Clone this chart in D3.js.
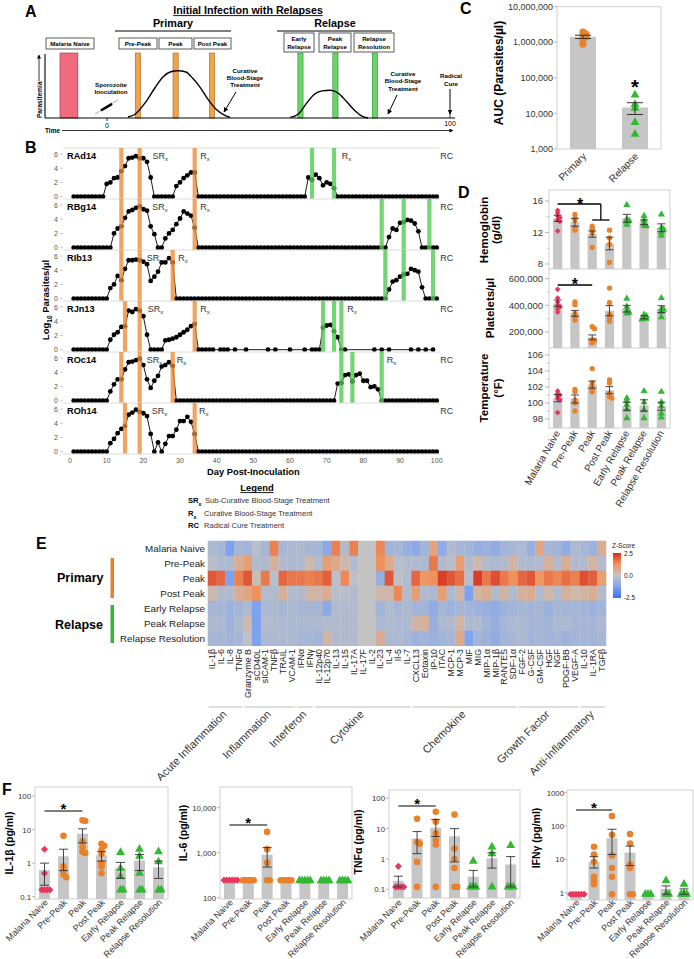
<!DOCTYPE html>
<html>
<head>
<meta charset="utf-8">
<script src="https://cdn.jsdelivr.net/npm/d3@7"></script>
<style>body{margin:0;background:#fff;}</style>
</head>
<body>
<script>
// ======================= DATA =======================
// ---- Panel A (schematic) ----
const aPrimaryT=[6.1,8.2,11.1,14,16.3,18.4,20.7,23,25,27.1,29.4,31.8,34.1,35.9];
const aPrimaryP=[1.6,6,24,48,65,73,75,73,63,49,30,14,5,1];
const aRelapseT=[53.4,55.7,58,60.3,62.7,65,67.3,69.7,72,74.3,76.1];
const aRelapseP=[1,6,22,37,43,44,40,27,13,3,0];
const aNaiveSpan=[-13.7,-8.5];
const aPrimaryStageT=[9,20,30.6];
const aRelapseStageT=[56.4,66.6,78.1];

// ---- Panel B ----
const bMonkeys=["RAd14","RBg14","RIb13","RJn13","ROc14","ROh14"];
const bDays=d3.range(1,101);
const bRAd14=[0,0,0,0,0,0,0,0,0,1.8, 2.0,2.6,2.7,3.6,4.3,5.4,5.5,5.7,5.4,5.4, 4.9,2.7,0,0,0,0,0,0,1.5,2.0,
 2.6,3.0,3.4,3.4,0,0,0,0,0,0, 0,0,0,0,0,0,0,0,0,0, 0,0,0,0,0,0,0,0,0,0, 0,0,0,0,2.7,2.35,3.1,2.6,1.6,2.0,
 1.8,1.2,0,0,0,0,0,0,0,0, 0,0,0,0,0,0,0,0,0,0, 0,0,0,0,0,0,0,0,0,0];
const bRBg14=[0,0,0,0,0,0,0,0,0,0, 0,2.0,2.7,3.0,4.2,5.1,5.3,5.6,5.8,5.4, 5.2,3.0,1.9,0,0,1.3,2.0,2.5,3.3,4.1,
 5.1,4.8,4.5,2.8,0,0,0,0,0,0, 0,0,0,0,0,0,0,0,0,0, 0,0,0,0,0,0,0,0,0,0, 0,0,0,0,0,0,0,0,0,0,
 0,0,0,0,0,0,0,0,0,0, 0,0,0,0,0,0,1.5,2.7,2.5,3.5, 3.6,3.9,3.8,3.4,2.3,0,0,0,0,0];
const bRIb13=[0,0,0,0,0,0,0,0,0,0, 1.5,2.0,3.2,2.6,4.2,5.4,5.4,5.5,5.4,5.2, 4.85,2.5,3.1,3.8,5.1,5.1,5.7,5.1,0,0,
 0,0,0,0,0,0,0,0,0,0, 0,0,0,0,0,0,0,0,0,0, 0,0,0,0,0,0,0,0,0,0, 0,0,0,0,0,0,0,0,0,0,
 0,0,0,0,0,0,0,0,0,0, 0,0,0,0,0,0,1.3,2.4,2.6,3.1, 3.4,3.5,4.2,4.0,3.8,1.6,0,0,0,0];
const bRJn13Days=[1,2,3,4,5,6,7,8,9,10,11,12,13,14,15,16,17,18,19,20,21,22,23,24,25,26,27,28,29,30,31,32,33,34,35,
 36,37,38,39,41,42,43,45,48,54,56,60,64,66,67,68,69,70,71,72,73,74,75,83,85,87,93,95,97,99];
const bRJn13=[0,0,0,0,0,0,0,0,0,0, 1.4,2.1,2.45,3.2,3.3,5.5,5.3,5.7,5.5,4.7, 2.1,0,0,0,0,1.3,1.4,1.55,1.75,2.1,
 2.45,2.8,3.3,3.6,0, 0,0,0,0,0,0,0,0,0,0,0,0,0,0,0,0, 3.1,3.4,3.5,2.6,1.75,0,0, 0,0,0,0,0,0,0];
const bROc14=[0,0,0,0,0,0,0,0,0,0, 1.3,2.3,3.0,3.0,4.4,5.4,5.5,5.7,5.9,5.0, 3.0,1.8,2.8,3.5,4.8,5.0,5.4,4.9,0,0,
 0,0,0,0,0,0,0,0,0,0, 0,0,0,0,0,0,0,0,0,0, 0,0,0,0,0,0,0,0,0,0, 0,0,0,0,0,0,0,0,0,0,
 0,0,2.4,2.5,3.6,3.7,2.7,3.6,3.8,2.8, 2.8,1.9,2.0,1.6,0,0,0,0,0,0, 0,0,0,0,0,0,0,0,0,0];
const bROh14=[0,0,0,0,0,0,0,0,0,0, 1.2,1.8,2.6,3.2,3.6,5.2,5.5,5.9,5.6,5.4, 5.0,2.5,0,1.3,0,1.1,2.2,2.2,3.1,4.3,
 4.3,4.9,4.2,2.5,0,0,0,0,0,0, 0,0,0,0,0,0,0,0,0,0, 0,0,0,0,0,0,0,0,0,0, 0,0,0,0,0,0,0,0,0,0,
 0,0,0,0,0,0,0,0,0,0, 0,0,0,0,0,0,0,0,0,0, 0,0,0,0,0,0,0,0,0,0];
const bSeriesDays=[bDays,bDays,bDays,bRJn13Days,bDays,bDays];
const bSeriesVals=[bRAd14,bRBg14,bRIb13,bRJn13,bROc14,bROh14];
const bOrangeDays=[[14,19,34],[14,19,34],[14,19,28],[15,19,34],[14,19,28],[15,19,34]];
const bGreenDays=[[66,72],[85,91,98],[86,91,99],[69,72,74],[74,77,85],[]];
const bSRxDay=[22.5,22.4,20.9,21.2,20.9,22.3];
const bRxDay=[35.5,35.5,29.5,35.5,29.1,35.2];
const bRx2Day=[74.1,null,null,75.6,86.4,null];
const bRCDay=101;
const bDayTicks=[0,10,20,30,40,50,60,70,80,90,100];
const bLogTicks=[0,2,4,6];

// ---- Panel C ----
const cGroups=["Primary","Relapse"];
const cMeans=[1.42e6,1.47e4];
const cLo=[1.28e6,9.3e3];
const cHi=[1.58e6,2.0e4];
const cPoints=[[1.95e6,1.7e6,1.55e6,1.4e6,1.15e6,0.88e6],[3.3e4,1.8e4,1.4e4,5.6e3,2.6e3]];
const cTicks=[1e3,1e4,1e5,1e6,1e7];

// ---- Stage names (D, F) ----
const stages=["Malaria Naive","Pre-Peak","Peak","Post Peak","Early Relapse","Peak Relapse","Relapse Resolution"];

// ---- Panel D ----
const dHgbMean=[13.8,13.3,11.8,10.6,13.8,13.3,12.6];
const dHgbErr=[0.4,0.5,0.4,0.8,0.5,0.3,0.5];
const dHgbPts=[[14.8,14.5,14.1,13.9,13.6,13.4,12.2],[14.3,13.8,13.5,12.6,12.3],[12.8,12.5,12.2,11.9,10.1],[12.3,11.3,10.5,8.2],[15.5,13.7,13.5,13.4,13.0],[14.1,13.6,13.2,12.9,12.8],[14.3,12.6,12.4,12.0,11.6]];
const dHgbTicks=[8,12,16];
const dPltMean=[415000,340000,160000,360000,375000,310000,372000];
const dPltErr=[25000,22000,18000,38000,25000,12000,25000];
const dPltPts=[[520000,455000,425000,400000,390000,372000,350000],[425000,405000,340000,315000,290000],[240000,225000,140000,135000,120000],[530000,420000,330000,305000,280000],[450000,390000,360000,345000,340000],[330000,320000,305000,300000,295000],[455000,373000,370000,350000,312000]];
const dPltTicks=[200000,400000,600000];
const dTmpMean=[100.6,100.5,102.3,101.6,99.6,99.7,99.6];
const dTmpErr=[0.45,0.5,0.45,0.45,0.5,0.7,0.5];
const dTmpPts=[[101.5,101.2,101.0,100.9,100.6,100.4,98.8],[101.7,101.4,100.4,100.0,99.0],[104.3,102.5,102.1,101.7,101.4],[102.9,102.5,101.2,100.8,100.6],[100.6,100.3,99.8,99.2,98.1],[101.5,100.1,99.1,98.1],[101.4,100.1,99.6,98.7,98.2]];
const dTmpTicks=[98,100,102,104,106];

// ---- Panel E ----
const eRows=["Malaria Naive","Pre-Peak","Peak","Post Peak","Early Relapse","Peak Relapse","Relapse Resolution"];
const eAnalytes=["IL-1β","IL-6","IL-8","TNFα","Granzyme B","sCD40L","sICAM-1","TNFβ","TRAIL","VCAM-1","IFNα","IFNγ",
 "IL-12p40","IL-12p70","IL-13","IL-15","IL-17A","IL-17F","IL-2","IL-23","IL-4","Il-5","IL-7",
 "CXCL13","Eotaxin","IP-10","ITAC","MCP-1","MCP-3","MIF","MIG","MIP-1α","MIP-1β","RANTES","SDF-1α",
 "FGF-2","G-CSF","GM-CSF","HGF","NGF","PDGF-BB","VEGF-A","IL-10","IL-1RA","TGFβ"];
const eGroupNames=["Acute Inflammation","Inflammation","Interferon","Cytokine","Chemokine","Growth Factor","Anti-Inflammatory"];
const eGroupSizes=[4,6,2,11,12,7,3];
const eNaive=[-0.4,-0.5,-1.3,-0.5,-0.6,-0.2,-0.5,1.5,-0.5,-0.4,-0.4,-0.5,-0.5,-1.0,1.5,-0.3,1.5,0,0,1.4,-0.6,-0.5,-0.8,-1.0,-0.6,0.8,-0.9,-0.3,-0.5,-0.6,-0.8,-0.7,-0.9,-0.6,-0.5,-0.4,-0.8,0.8,-0.5,-0.6,-0.9,-0.4,-0.5,-0.7,0.6];
const ePrePeak=[-0.2,-0.4,-0.4,0.6,1.0,-0.3,-0.4,0.5,-0.3,-0.4,-0.3,0.3,-0.3,1.0,0.7,0.3,-0.3,0,0,1.3,0.7,-0.2,-0.3,-0.3,-0.4,1.6,-0.3,-0.2,1.0,-0.3,0.3,-0.3,-0.4,-0.3,0.4,-0.3,-0.4,-0.3,0.5,-0.3,0.6,-0.3,-0.3,0.4,-0.3];
const ePeak=[2.0,1.8,-1.3,1.5,2.0,0.2,1.6,-0.2,1.8,1.6,1.6,1.5,1.6,1.9,-0.2,1.4,-0.1,0,0,-0.8,2.0,-0.1,-0.3,1.8,1.2,1.3,2.3,2.0,1.7,-0.2,2.3,1.6,2.1,1.6,1.3,1.8,2.0,1.2,1.6,1.4,1.7,1.5,2.1,1.9,1.0];
const ePostPeak=[0.3,-0.3,-0.3,0.6,0.8,1.3,-0.3,-0.3,0.5,-0.3,-0.3,0.4,0.4,0.6,-0.2,-0.2,-0.3,0,0,0.3,0.3,1.4,-0.3,1.0,-0.3,-0.4,1.0,-0.4,0.4,-1.3,0.4,0.6,-0.3,0.4,-0.3,0.5,0.6,-0.3,0.3,-0.3,0.5,0.3,0.4,0.6,-0.3];
const eEarlyRel=[-0.5,-0.5,-0.7,-0.6,-0.4,-1.3,-0.4,-0.4,-0.5,-0.4,-0.5,-0.5,-0.5,-1.0,-0.3,-0.3,-0.3,0,0,-0.6,-0.3,-0.5,-0.4,-0.6,-0.6,-0.9,-0.5,-0.7,-0.5,-0.6,-0.7,-0.8,-0.9,-0.7,-0.6,-0.5,-0.6,-0.5,-0.7,-0.5,-0.6,-0.5,-0.6,-0.7,-0.6];
const ePeakRel=[-0.4,-0.4,-0.7,-0.4,0.3,-1.3,-0.3,-0.3,-0.4,-0.4,-0.4,-0.4,-0.4,-0.3,-0.3,-0.3,-0.3,0,0,-0.4,-0.3,-0.4,-0.4,0.4,0.5,-0.8,-0.4,-0.3,0.4,-0.4,-0.3,-0.6,-0.8,-0.5,-0.4,-0.4,-0.5,-0.5,-0.6,-0.4,-0.4,-0.5,-0.5,-0.5,-0.4];
const eRelRes=[-0.5,-0.5,-0.6,-0.5,-0.1,-1.3,-0.4,-0.4,-0.4,-0.4,-0.5,-0.5,-0.6,0.4,-0.3,-0.3,-0.3,0,0,0.6,-0.4,-0.4,-0.5,-0.7,-0.6,-0.7,-0.6,-0.5,0.7,-1.2,-0.6,-0.7,-0.9,-0.6,-0.5,-0.4,-0.6,-0.5,-0.6,-0.5,-0.7,-0.6,-0.5,-0.6,-0.5];
const eMatrix=[eNaive,ePrePeak,ePeak,ePostPeak,eEarlyRel,ePeakRel,eRelRes];

// ---- Panel F ----
const fIL1bMean=[0.62,1.6,7.5,1.7,0.7,1.2,0.75];
const fIL1bLo=[0.22,0.6,4.0,1.15,0.35,0.6,0.35];
const fIL1bHi=[1.0,2.6,10.5,2.2,1.05,1.8,1.15];
const fIL1bPts=[[2.6,0.5,0.16,0.16,0.16,0.16],[6.5,0.8,0.6,0.45,0.38],[19,18,4.5,3.0,2.2,2.0],[3.8,3.3,2.5,1.9,1.0,0.8,0.5],[2.1,0.7,0.4,0.16,0.16],[2.6,1.6,0.5,0.16,0.16],[2.2,1.1,0.16,0.16]];
const fIL6Mean=[245,245,900,245,240,240,240];
const fIL6Lo=[245,245,480,245,240,240,240];
const fIL6Hi=[245,245,1300,245,240,240,240];
const fIL6Pts=[[245,245,245,245,245,245],[245,245,245,245,245],[2900,1200,600,245,245],[245,245,245,245,245],[240,240,240,240,240],[240,240,240,240],[240,240,240,240]];
const fTNFMean=[0.19,4.7,10.8,5.6,0.26,1.05,0.66];
const fTNFLo=[0.12,1.5,5.5,0.8,0.12,0.5,0.12];
const fTNFHi=[0.27,8,20,10,0.42,1.6,1.2];
const fTNFPts=[[0.57,0.12,0.12,0.12,0.12],[21,3.6,3.2,0.8,0.12],[36,17,7,4.2,3.0,0.12],[29,2.2,1.0,0.5,0.12,0.12],[0.85,0.12,0.12,0.12],[2.5,1.5,0.12],[2.8,0.12,0.12,0.12]];
const fIFNMean=[0.9,8.5,43,16,0.9,1.3,1.1];
const fIFNLo=[0.9,5.5,14,6.5,0.9,0.9,0.9];
const fIFNHi=[0.9,12,80,25,0.9,1.6,1.3];
const fIFNPts=[[0.9,0.9,0.9,0.9,0.9,0.9],[24,14,8.5,3.0,2.2,1.8],[200,55,13,5.5,3.0,0.9],[58,30,7,5.5,0.9,0.9],[0.9,0.9,0.9],[2.3,0.9,0.9],[1.8,0.9,0.9,0.9]];

// ======================= DRAWING =======================
const FONT="'Liberation Sans', Arial, Helvetica, sans-serif";
const svg=d3.select("body").append("svg").attr("width",694).attr("height",959).attr("font-family",FONT);
svg.append("rect").attr("width",694).attr("height",959).attr("fill","#fff");
const defs=svg.append("defs");
defs.append("marker").attr("id","ah").attr("viewBox","0 0 10 10").attr("refX",9).attr("refY",5)
 .attr("markerWidth",5).attr("markerHeight",5).attr("orient","auto").append("path").attr("d","M0,0L10,5L0,10z").attr("fill","#000");

const COL_NAIVE="#e8365c", COL_PRI="#e8812a", COL_REL="#33b833", BAR="#c6c6c6", BOX="#cfcfcf";

function T(g,x,y,s,o){o=o||{};const t=g.append("text").attr("x",x).attr("y",y).text(s)
 .attr("font-size",o.size||10).attr("fill",o.fill||"#000").attr("text-anchor",o.anchor||"start");
 if(o.bold)t.attr("font-weight","bold"); if(o.rot!=null)t.attr("transform",`rotate(${o.rot},${x},${y})`); return t;}
function L(g,x1,y1,x2,y2,o){o=o||{};const l=g.append("line").attr("x1",x1).attr("y1",y1).attr("x2",x2).attr("y2",y2)
 .attr("stroke",o.stroke||"#000").attr("stroke-width",o.w||1); if(o.arrow)l.attr("marker-end","url(#ah)"); return l;}
function underline(g,t,x,y,anchor,w){const len=t.node().getComputedTextLength();const x0=anchor==="middle"?x-len/2:x;L(g,x0,y+1.6,x0+len,y+1.6,{w:w||0.9});}
function subText(g,x,y,main,sub,o){o=o||{};const t=g.append("text").attr("x",x).attr("y",y).attr("font-size",o.size||9).attr("fill",o.fill||"#333");
 if(o.bold)t.attr("font-weight","bold"); t.append("tspan").text(main); t.append("tspan").attr("dy",2.5).attr("font-size",(o.size||9)*0.68).text(sub); return t;}
function stageKind(i){return i===0?"diamond":(i<=3?"circle":"triangle");}
function stageColor(i){return i===0?COL_NAIVE:(i<=3?COL_PRI:COL_REL);}
function sym(g,kind,x,y,size,color){
 let p; if(kind==="diamond"){p=g.append("path").attr("d",d3.symbol().type(d3.symbolSquare).size(size*0.75)()).attr("transform",`translate(${x},${y}) rotate(45)`);}
 else {p=g.append("path").attr("d",d3.symbol().type(kind==="circle"?d3.symbolCircle:d3.symbolTriangle).size(size)()).attr("transform",`translate(${x},${y})`);}
 p.attr("fill",color);}
function swarm(vals,ys,cx,r){const pts=vals.map(v=>({v,y:ys(v)})).sort((a,b)=>a.y-b.y);const placed=[];const offs=[0,1,-1,2,-2,3,-3,4,-4];
 pts.forEach(p=>{for(const o of offs){const x=cx+o*r*0.75;if(placed.every(q=>Math.hypot(q.x-x,q.y-p.y)>=r*0.7)){p.x=x;break;}} if(p.x===undefined)p.x=cx; placed.push(p);});return placed;}

// Panel letters
[["A",25,17],["B",25,153],["C",460,14],["D",458,198],["E",36,549],["F",2,795]].forEach(d=>T(svg,d[1],d[2],d[0],{size:16,bold:true}));

// ---------------- Panel A ----------------
(function(){
 const g=svg.append("g");
 const xA=d3.scaleLinear().domain([0,100]).range([107,450]);
 const yA=d3.scaleLinear().domain([0,100]).range([118,55]);
 const tt=T(g,248,14,"Initial Infection with Relapses",{size:10.7,bold:true,anchor:"middle"}); underline(g,tt,248,14,"middle");
 T(g,173,27,"Primary",{size:10.8,bold:true,anchor:"middle"}); L(g,115,31,231,31,{w:1});
 T(g,335,27,"Relapse",{size:10.8,bold:true,anchor:"middle"}); L(g,277,31,392,31,{w:1});
 const boxes=[[46,94,38,49,["Malaria Naive"]],[119,157,38,49,["Pre-Peak"]],[159,192,38,49,["Peak"]],[194,231,38,49,["Post Peak"]],
  [284,314,33,52,["Early","Relapse"]],[319,351,33,52,["Peak","Relapse"]],[354,394,33,52,["Relapse","Resolution"]]];
 boxes.forEach(b=>{g.append("rect").attr("x",b[0]).attr("y",b[2]).attr("width",b[1]-b[0]).attr("height",b[3]-b[2]).attr("fill","#fff").attr("stroke","#333").attr("stroke-width",0.8);
  const cx=(b[0]+b[1])/2; if(b[4].length===1)T(g,cx,b[2]+8,b[4][0],{size:6.2,bold:true,anchor:"middle"});
  else {T(g,cx,b[2]+8,b[4][0],{size:6.2,bold:true,anchor:"middle"});T(g,cx,b[2]+15.5,b[4][1],{size:6.2,bold:true,anchor:"middle"});}});
 g.append("rect").attr("x",xA(aNaiveSpan[0])).attr("y",53).attr("width",xA(aNaiveSpan[1])-xA(aNaiveSpan[0])).attr("height",65).attr("fill","#f26b7c").attr("stroke","#8a3340").attr("stroke-width",0.6);
 aPrimaryStageT.forEach(t=>g.append("rect").attr("x",xA(t)-2.6).attr("y",53).attr("width",5.2).attr("height",65).attr("fill","#f0a447").attr("stroke","#a5621c").attr("stroke-width",0.6));
 aRelapseStageT.forEach(t=>g.append("rect").attr("x",xA(t)-2.6).attr("y",53).attr("width",5.2).attr("height",65).attr("fill","#6ad46a").attr("stroke","#2a8a2a").attr("stroke-width",0.6));
 const ln=d3.line().x(d=>xA(d[0])).y(d=>yA(d[1])).curve(d3.curveMonotoneX);
 g.append("path").attr("d",ln(aPrimaryT.map((t,i)=>[t,aPrimaryP[i]]))).attr("fill","none").attr("stroke","#000").attr("stroke-width",1.4);
 g.append("path").attr("d",ln(aRelapseT.map((t,i)=>[t,aRelapseP[i]]))).attr("fill","none").attr("stroke","#000").attr("stroke-width",1.4);
 L(g,45,118,45,54,{w:1.1}); L(g,45,118,455,118,{w:1.1});
 L(g,xA(0),118,xA(0),121,{w:0.8}); L(g,xA(100),113,xA(100),118,{w:0.8});
 T(g,xA(0),128,"0",{size:7,anchor:"middle"}); T(g,xA(100),126,"100",{size:7,anchor:"middle"});
 T(g,45,133,"Time",{size:6.5,bold:true}); L(g,62,130.5,453,130.5,{w:0.8,arrow:true});
 T(g,41.5,118,"Parasitemia",{size:6.5,bold:true,rot:-90}); L(g,39,81,39,55,{w:0.8,arrow:true});
 T(g,111,87,"Sporozoite",{size:6.2,bold:true,anchor:"middle"}); T(g,111,94,"Inoculation",{size:6.2,bold:true,anchor:"middle"});
 L(g,95,114,118,100,{w:0.6,stroke:"#777"}); L(g,101,110.5,112,103.8,{w:2.6});
 ["Curative","Blood-Stage","Treatment"].forEach((s,i)=>T(g,245,73+i*7,s,{size:6.2,bold:true,anchor:"middle"}));
 L(g,236,92,224,112,{w:1,arrow:true});
 ["Curative","Blood-Stage","Treatment"].forEach((s,i)=>T(g,403,76+i*7.3,s,{size:6.2,bold:true,anchor:"middle"}));
 L(g,397,95,388,114,{w:1,arrow:true});
 T(g,451,78,"Radical",{size:6.2,bold:true,anchor:"middle"}); T(g,451,86,"Cure",{size:6.2,bold:true,anchor:"middle"});
 L(g,450,89,450,114,{w:1,arrow:true});
})();

// ---------------- Panel B ----------------
(function(){
 const g=svg.append("g");
 const xB=d3.scaleLinear().domain([0,100]).range([70,436.7]);
 bMonkeys.forEach((name,i)=>{
  const top=148+51*i;
  const yB=d3.scaleLinear().domain([0,6]).range([top+48.7,top+6]);
  L(g,63,top,440,top,{stroke:"#dcdcdc",w:1});
  bLogTicks.forEach(t=>{T(g,58,yB(t)+2.5,String(t),{size:7,fill:"#555",anchor:"end"});L(g,60,yB(t),63,yB(t),{stroke:"#aaa",w:0.6});});
  const days=bSeriesDays[i], vals=bSeriesVals[i];
  const pts=days.map((d,k)=>[d,vals[k]]);
  g.append("path").attr("d",d3.line().x(d=>xB(d[0])).y(d=>yB(d[1]))(pts)).attr("fill","none").attr("stroke","#000").attr("stroke-width",0.9);
  pts.forEach(p=>g.append("circle").attr("cx",xB(p[0])).attr("cy",yB(p[1])).attr("r",2.4).attr("fill","#000"));
  bOrangeDays[i].forEach(d=>g.append("rect").attr("x",xB(d)-2.1).attr("y",top).attr("width",4.2).attr("height",51).attr("fill","#ec8a33").attr("opacity",0.78));
  bGreenDays[i].forEach(d=>g.append("rect").attr("x",xB(d)-2.1).attr("y",top).attr("width",4.2).attr("height",51).attr("fill","#52c952").attr("opacity",0.8));
  T(g,67,top+11,name,{size:9.2,bold:true});
  subText(g,xB(bSRxDay[i]),top+10.5,"SR","x",{size:9});
  subText(g,xB(bRxDay[i]),top+10.5,"R","x",{size:9});
  if(bRx2Day[i]!=null)subText(g,xB(bRx2Day[i]),top+10.5,"R","x",{size:9});
  T(g,xB(bRCDay),top+10.5,"RC",{size:9,fill:"#333"});
 });
 L(g,63,454,440,454,{stroke:"#dcdcdc",w:1});
 bDayTicks.forEach(d=>T(g,xB(d),463,String(d),{size:7,fill:"#555",anchor:"middle"}));
 T(g,xB(50),475,"Day Post-Inoculation",{size:9.3,bold:true,anchor:"middle"});
 const yl=g.append("text").attr("transform","translate(49,300) rotate(-90)").attr("text-anchor","middle").attr("font-size",9.5).attr("font-weight","bold");
 yl.append("tspan").text("Log"); yl.append("tspan").attr("dy",2.5).attr("font-size",6.5).text("10"); yl.append("tspan").attr("dy",-2.5).text(" Parasites/µl");
 const lt=T(g,257,491,"Legend",{size:9.4,bold:true,anchor:"middle"}); underline(g,lt,257,491,"middle");
 subText(g,188,503,"SR","x",{size:7.6,bold:true,fill:"#000"}); T(g,205,503,"Sub-Curative Blood-Stage Treatment",{size:7.6,fill:"#333"});
 subText(g,188,516,"R","x",{size:7.6,bold:true,fill:"#000"}); T(g,204,516,"Curative Blood-Stage Treatment",{size:7.6,fill:"#333"});
 T(g,188,528,"RC",{size:7.6,bold:true}); T(g,204,528,"Radical Cure Treatment",{size:7.6,fill:"#333"});
})();

// ---------------- Panel C ----------------
(function(){
 const g=svg.append("g");
 const x0=557,x1=661,y0=6.7,y1=149;
 const xs=d3.scalePoint().domain(cGroups).range([x0,x1]).padding(0.5);
 const ys=d3.scaleLog().domain([1e3,1e7]).range([y1,y0]);
 g.append("rect").attr("x",x0).attr("y",y0).attr("width",x1-x0).attr("height",y1-y0).attr("fill","none").attr("stroke",BOX);
 cTicks.forEach(t=>{T(g,x0-4,ys(t)+3.2,d3.format(",")(t),{size:9,fill:"#333",anchor:"end"});L(g,x0-3,ys(t),x0,ys(t),{stroke:"#999",w:0.7});});
 cGroups.forEach((gr,i)=>{const cx=xs(gr);
  g.append("rect").attr("x",cx-13).attr("y",ys(cMeans[i])).attr("width",26).attr("height",y1-ys(cMeans[i])).attr("fill",BAR);
  swarm(cPoints[i],ys,cx,4).forEach(p=>sym(g,i===0?"circle":"triangle",p.x,p.y,i===0?40:34,i===0?COL_PRI:COL_REL));
  L(g,cx,ys(cLo[i]),cx,ys(cHi[i]),{stroke:"#333"});L(g,cx-8,ys(cLo[i]),cx+8,ys(cLo[i]),{stroke:"#333"});L(g,cx-8,ys(cHi[i]),cx+8,ys(cHi[i]),{stroke:"#333"});
  T(g,cx+4,157,gr,{size:10,fill:"#333",anchor:"end",rot:-45});
 });
 T(g,xs("Relapse"),94,"*",{size:20,bold:true,anchor:"middle"});
 T(g,503,73,"AUC (Parasites/µl)",{size:12,bold:true,anchor:"middle",rot:-90});
})();

// ---------------- Panel D ----------------
(function(){
 const g=svg.append("g");
 const x0=549,x1=670;
 const xs=d3.scalePoint().domain(stages).range([x0,x1]).padding(0.5);
 g.append("rect").attr("x",x0).attr("y",190).attr("width",x1-x0).attr("height",238).attr("fill","none").attr("stroke",BOX);
 L(g,x0,269,x1,269,{stroke:BOX}); L(g,x0,348,x1,348,{stroke:BOX});
 const panels=[
  {ys:d3.scaleLinear().domain([8,16]).range([264,201]),bottom:269,mean:dHgbMean,err:dHgbErr,pts:dHgbPts,ticks:dHgbTicks,minor:[10,14],fmt:d=>d},
  {ys:d3.scaleLinear().domain([200000,600000]).range([332,278.7]),bottom:348,mean:dPltMean,err:dPltErr,pts:dPltPts,ticks:dPltTicks,minor:[300000,500000],fmt:d3.format(",")},
  {ys:d3.scaleLinear().domain([98,106]).range([419,355]),bottom:428,mean:dTmpMean,err:dTmpErr,pts:dTmpPts,ticks:dTmpTicks,minor:[99,101,103,105],fmt:d=>d}];
 panels.forEach(P=>{
  P.ticks.forEach(t=>{T(g,x0-6,P.ys(t)+3.4,P.fmt(t),{size:9.5,fill:"#333",anchor:"end"});L(g,x0-4,P.ys(t),x0,P.ys(t),{stroke:"#999",w:0.7});});
  P.minor.forEach(t=>L(g,x0-2.5,P.ys(t),x0,P.ys(t),{stroke:"#aaa",w:0.6}));
  stages.forEach((s,i)=>{const cx=xs(s);
   g.append("rect").attr("x",cx-4.6).attr("y",P.ys(P.mean[i])).attr("width",9.2).attr("height",P.bottom-P.ys(P.mean[i])).attr("fill",BAR);
   swarm(P.pts[i],P.ys,cx,3).forEach(p=>sym(g,stageKind(i),p.x,p.y,22,stageColor(i)));
   const lo=P.ys(P.mean[i]-P.err[i]),hi=P.ys(P.mean[i]+P.err[i]);
   L(g,cx,lo,cx,hi,{stroke:"#333",w:0.9});L(g,cx-4,lo,cx+4,lo,{stroke:"#333",w:0.9});L(g,cx-4,hi,cx+4,hi,{stroke:"#333",w:0.9});
  });
 });
 const xm=(xs("Peak")+xs("Post Peak"))/2;
 L(g,xs("Malaria Naive"),204,xm,204,{w:1.3}); L(g,xm,204,xm,220,{w:1.3}); L(g,xs("Peak"),220,xs("Post Peak"),220,{w:1.3});
 T(g,580,210,"*",{size:16,bold:true,anchor:"middle"});
 L(g,xs("Malaria Naive"),285,xs("Peak"),285,{w:1.3});
 T(g,(xs("Malaria Naive")+xs("Peak"))/2,290,"*",{size:16,bold:true,anchor:"middle"});
 T(g,488,230,"Hemoglobin",{size:11.5,bold:true,anchor:"middle",rot:-90});
 T(g,500,230,"(g/dl)",{size:11.5,bold:true,anchor:"middle",rot:-90});
 T(g,494,308,"Platelets/µl",{size:11.5,bold:true,anchor:"middle",rot:-90});
 T(g,488,388,"Temperature",{size:11.5,bold:true,anchor:"middle",rot:-90});
 T(g,502,388,"(°F)",{size:11.5,bold:true,anchor:"middle",rot:-90});
 stages.forEach(s=>T(g,xs(s)+3,433,s,{size:10,fill:"#333",anchor:"end",rot:-60}));
})();

// ---------------- Panel E ----------------
(function(){
 const g=svg.append("g");
 const xs=d3.scaleBand().domain(eAnalytes).range([207.7,207.7+8.85*eAnalytes.length]);
 const ys=d3.scaleBand().domain(eRows).range([540.7,645.7]);
 const col=d3.scaleLinear().domain([-2.5,-1.25,0,1.25,2.5]).range(["#3a6ff0","#7ea3ef","#c3c3c3","#f0955e","#d62c1e"]).clamp(true);
 eRows.forEach((r,ri)=>{eAnalytes.forEach((a,ci)=>{
  g.append("rect").attr("x",xs(a)).attr("y",ys(r)).attr("width",xs.bandwidth()+0.3).attr("height",ys.bandwidth()+0.3).attr("fill",col(eMatrix[ri][ci]));});
  T(g,205,ys(r)+ys.bandwidth()/2+3.5,r,{size:9.8,fill:"#222",anchor:"end"});});
 eAnalytes.forEach(a=>T(g,xs(a)+xs.bandwidth()/2+3.2,649,a,{size:8.8,fill:"#222",anchor:"end",rot:-90}));
 let start=0;
 eGroupNames.forEach((n,i)=>{const a0=eAnalytes[start],a1=eAnalytes[start+eGroupSizes[i]-1];
  const gx0=xs(a0)+1,gx1=xs(a1)+xs.bandwidth()-1; L(g,gx0,707,gx1,707,{stroke:"#bbb",w:1});
  T(g,(gx0+gx1)/2+2,715,n,{size:11,fill:"#333",anchor:"end",rot:-45}); start+=eGroupSizes[i];});
 T(g,57,582,"Primary",{size:12.5,bold:true}); g.append("rect").attr("x",110.5).attr("y",558).attr("width",3.5).attr("height",40).attr("fill","#e8812a");
 T(g,55,629,"Relapse",{size:12.5,bold:true}); g.append("rect").attr("x",110.5).attr("y",605).attr("width",3.5).attr("height",38).attr("fill","#33b833");
 const cbx=xs.range()[1]+7;
 const grad=defs.append("linearGradient").attr("id","zg").attr("x1",0).attr("x2",0).attr("y1",0).attr("y2",1);
 [2.5,1.25,0,-1.25,-2.5].forEach((v,i)=>grad.append("stop").attr("offset",(i*25)+"%").attr("stop-color",col(v)));
 g.append("rect").attr("x",cbx).attr("y",553).attr("width",8).attr("height",45).attr("fill","url(#zg)");
 T(g,cbx-1,548,"Z-Score",{size:6.5,fill:"#222"});
 T(g,cbx+11,556,"2.5",{size:6.5,fill:"#222"}); T(g,cbx+11,578,"0.0",{size:6.5,fill:"#222"}); T(g,cbx+11,600,"-2.5",{size:6.5,fill:"#222"});
})();

// ---------------- Panel F ----------------
(function(){
 const g=svg.append("g");
 const charts=[
  {x0:35,x1:168,y0:787,y1:899,dom:[0.1,100],rng:[896.7,796],ticks:[0.1,1,10,100],fmt:d=>String(d),tx:31,label:"IL-1β (pg/ml)",lx:13,ly:843,sig:811,star:814,mean:fIL1bMean,lo:fIL1bLo,hi:fIL1bHi,pts:fIL1bPts},
  {x0:220,x1:352,y0:787,y1:899,dom:[100,10000],rng:[897.7,807.7],ticks:[100,1000,10000],fmt:d3.format(","),tx:216,label:"IL-6 (pg/ml)",lx:187,ly:833,sig:825,star:828,mean:fIL6Mean,lo:fIL6Lo,hi:fIL6Hi,pts:fIL6Pts},
  {x0:389,x1:520,y0:790,y1:898,dom:[0.1,100],rng:[889.3,798.3],ticks:[0.1,1,10,100],fmt:d=>String(d),tx:385,label:"TNFα (pg/ml)",lx:362,ly:842,sig:806,star:809,mean:fTNFMean,lo:fTNFLo,hi:fTNFHi,pts:fTNFPts},
  {x0:567,x1:693,y0:790,y1:900,dom:[1,1000],rng:[892.7,792.7],ticks:[1,10,100,1000],fmt:d=>String(d),tx:564,label:"IFNγ (pg/ml)",lx:540,ly:838,sig:810,star:813,mean:fIFNMean,lo:fIFNLo,hi:fIFNHi,pts:fIFNPts}];
 charts.forEach(C=>{
  const xs=d3.scalePoint().domain(stages).range([C.x0,C.x1]).padding(0.5);
  const ys=d3.scaleLog().domain(C.dom).range(C.rng);
  g.append("rect").attr("x",C.x0).attr("y",C.y0).attr("width",C.x1-C.x0).attr("height",C.y1-C.y0).attr("fill","none").attr("stroke",BOX);
  C.ticks.forEach(t=>{T(g,C.tx,ys(t)+3,C.fmt(t),{size:7.8,fill:"#333",anchor:"end"});L(g,C.x0-3,ys(t),C.x0,ys(t),{stroke:"#999",w:0.7});});
  stages.forEach((s,i)=>{const cx=xs(s);
   g.append("rect").attr("x",cx-5.5).attr("y",ys(C.mean[i])).attr("width",11).attr("height",C.y1-ys(C.mean[i])).attr("fill",BAR);
   swarm(C.pts[i],ys,cx,3.6).forEach(p=>sym(g,stageKind(i),p.x,p.y,34,stageColor(i)));
   const lo=ys(C.lo[i]),hi=ys(C.hi[i]);
   if(Math.abs(hi-lo)>0.5){L(g,cx,lo,cx,hi,{stroke:"#333",w:0.9});L(g,cx-4.5,lo,cx+4.5,lo,{stroke:"#333",w:0.9});L(g,cx-4.5,hi,cx+4.5,hi,{stroke:"#333",w:0.9});}
   T(g,cx+4,903,s,{size:9,fill:"#333",anchor:"end",rot:-45});
  });
  L(g,xs("Malaria Naive"),C.sig,xs("Peak"),C.sig,{w:1.2});
  T(g,(xs("Malaria Naive")+xs("Peak"))/2,C.star,"*",{size:15,bold:true,anchor:"middle"});
  T(g,C.lx,C.ly,C.label,{size:10.5,bold:true,anchor:"middle",rot:-90});
 });
})();
</script>
</body>
</html>
